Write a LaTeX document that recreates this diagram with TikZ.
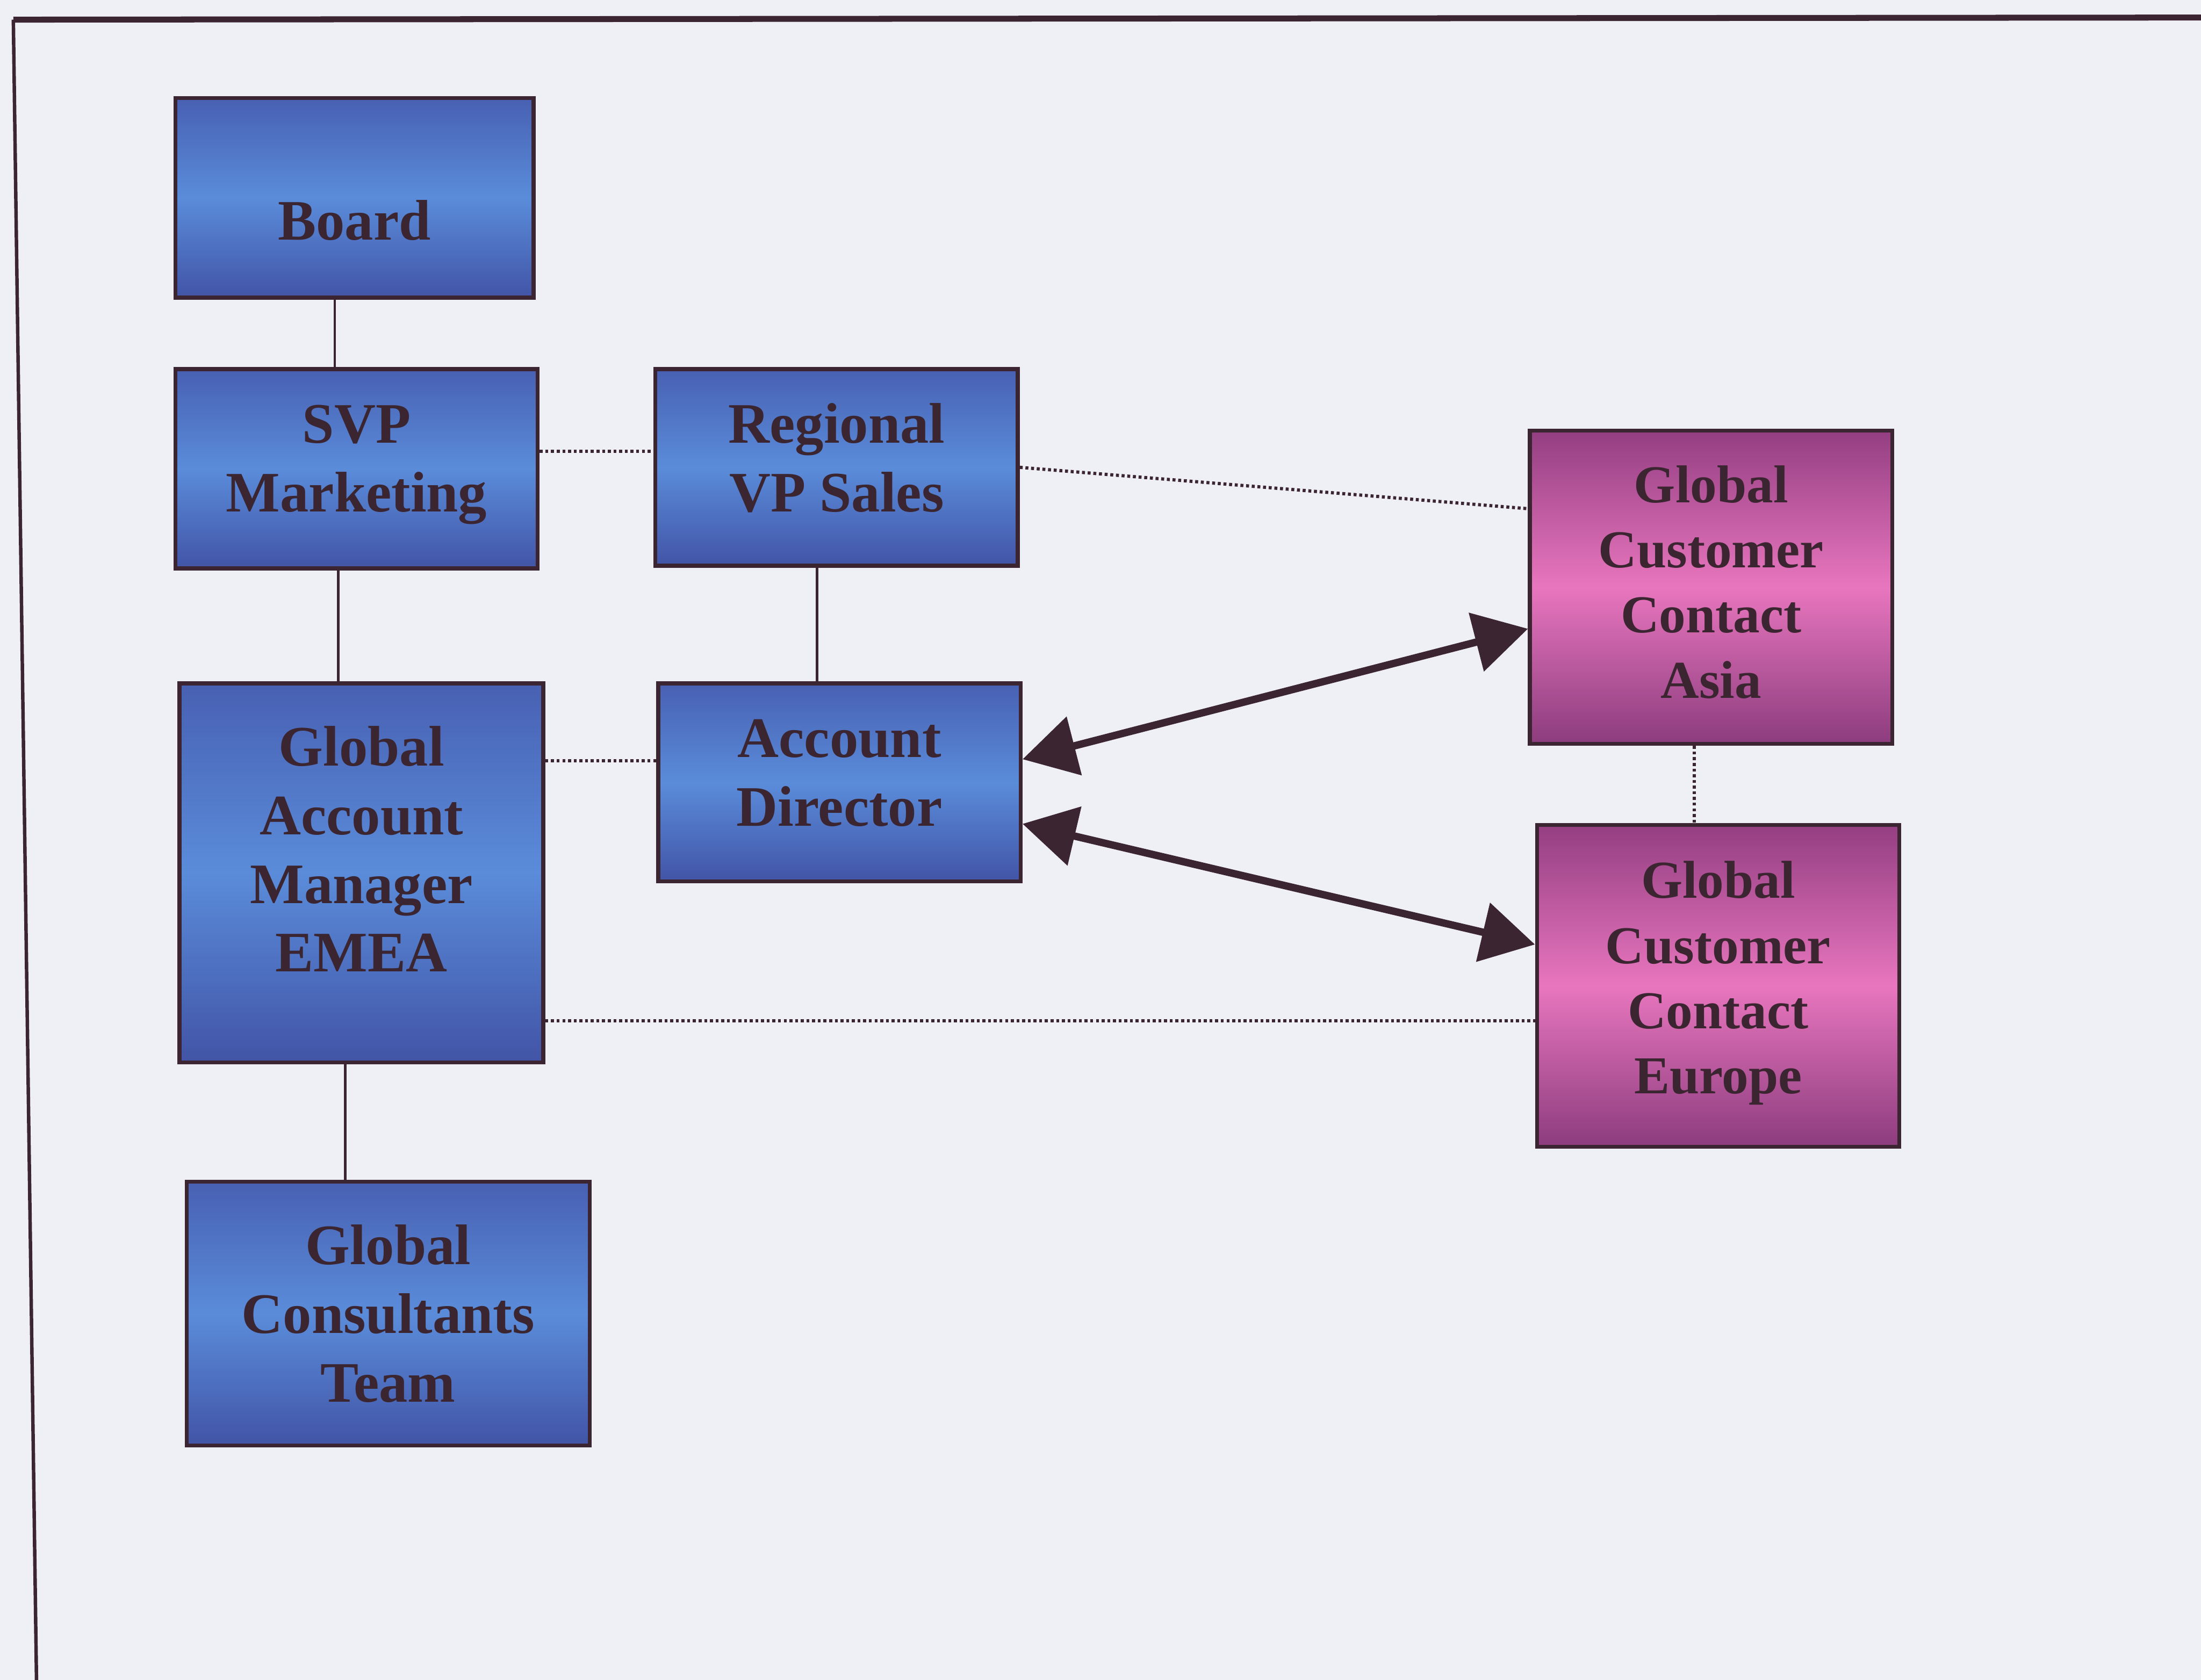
\documentclass[tikz,border=0pt]{standalone}
\usepackage{fontspec}
\setmainfont{Liberation Serif}
\usetikzlibrary{arrows.meta}

\definecolor{paper}{RGB}{239,239,246}
\definecolor{ink}{RGB}{58,37,48}
\definecolor{bluetop}{RGB}{72,96,178}
\definecolor{bluemid}{RGB}{90,140,218}
\definecolor{bluebot}{RGB}{66,84,166}
\definecolor{pinktop}{RGB}{148,62,130}
\definecolor{pinkmid}{RGB}{232,118,190}
\definecolor{pinkbot}{RGB}{140,60,126}

\begin{document}
\begin{tikzpicture}[x=0.01cm, y=-0.01cm,
	box/.style={draw=ink, line width=0.8pt, rectangle, align=center, text=ink, inner sep=0pt,
		font=\fontsize{11.6}{13.9}\selectfont\bfseries},
	bluebox/.style={box, top color=bluetop, bottom color=bluebot, middle color=bluemid},
	pinkbox/.style={box, top color=pinktop, bottom color=pinkbot, middle color=pinkmid,
		font=\fontsize{10.8}{13.2}\selectfont\bfseries},
	link/.style={draw=ink, line width=0.5pt},
	dotlink/.style={draw=ink, line width=0.65pt, dash pattern=on 0.6pt off 0.55pt},
	twoway/.style={draw=ink, line width=1.5pt,
		{Triangle[length=0.38cm, width=0.42cm]}-{Triangle[length=0.38cm, width=0.42cm]}}]
	\useasboundingbox (0, 0) rectangle (1568, 1197);
	\fill[paper] (0, 0) rectangle (1568, 1197);
	\draw[ink, line width=0.7pt] (26, 1197) -- (9.5, 14);
	\draw[ink, line width=1.2pt] (9.5, 14) -- (1568, 12.5);

	\node[bluebox, minimum width=2.55cm, minimum height=1.42cm, text height=0.6cm, text depth=0pt] (board) at (252.5, 141) {Board};
	\node[bluebox, minimum width=2.58cm, minimum height=1.42cm, text depth=0.15cm] (svp) at (254, 334) {SVP\\Marketing};
	\node[bluebox, minimum width=2.58cm, minimum height=1.40cm, text depth=0.14cm] (rvp) at (596, 333) {Regional\\VP Sales};
	\node[bluebox, minimum width=2.59cm, minimum height=2.70cm, text depth=0.34cm] (gam) at (257.5, 622) {Global\\Account\\Manager\\EMEA};
	\node[bluebox, minimum width=2.58cm, minimum height=1.41cm, text depth=0.14cm] (ad) at (598, 557.5) {Account\\Director};
	\node[bluebox, minimum width=2.87cm, minimum height=1.88cm] (gct) at (276.5, 936) {Global\\Consultants\\Team};
	\node[pinkbox, minimum width=2.58cm, minimum height=2.23cm, text depth=0.08cm] (asia) at (1219, 418.5) {Global\\Customer\\Contact\\Asia};
	\node[pinkbox, minimum width=2.58cm, minimum height=2.29cm, text depth=0.12cm] (europe) at (1224, 702.5) {Global\\Customer\\Contact\\Europe};

	\coordinate (b1) at ([xshift=-0.14cm]board.south);
	\coordinate (b2) at ([xshift=-0.13cm]svp.south);
	\coordinate (b3) at ([xshift=-0.14cm]rvp.south);
	\coordinate (b4) at ([xshift=-0.115cm]gam.south);
	\draw[link] (b1) -- (b1 |- svp.north);
	\draw[link] (b2) -- (b2 |- gam.north);
	\draw[link] (b3) -- (b3 |- ad.north);
	\draw[link] (b4) -- (b4 |- gct.north);

	\coordinate (d1) at ([yshift=0.115cm]rvp.west);
	\coordinate (d2) at ([yshift=0.155cm]ad.west);
	\coordinate (d3) at ([yshift=-0.25cm]europe.west);
	\coordinate (d4) at ([xshift=-0.12cm]asia.south);
	\draw[dotlink] (svp.east |- d1) -- (d1);
	\draw[dotlink] (rvp.east) -- ([yshift=0.56cm]asia.west);
	\draw[dotlink] (gam.east |- d2) -- (d2);
	\draw[dotlink] (gam.east |- d3) -- (d3);
	\draw[dotlink] (d4) -- (d4 |- europe.north);

	\draw[twoway] ([yshift=0.165cm]ad.east) -- ([yshift=-0.295cm]asia.west);
	\draw[twoway] ([yshift=-0.295cm]ad.east) -- ([yshift=0.295cm]europe.west);
\end{tikzpicture}
\end{document}
